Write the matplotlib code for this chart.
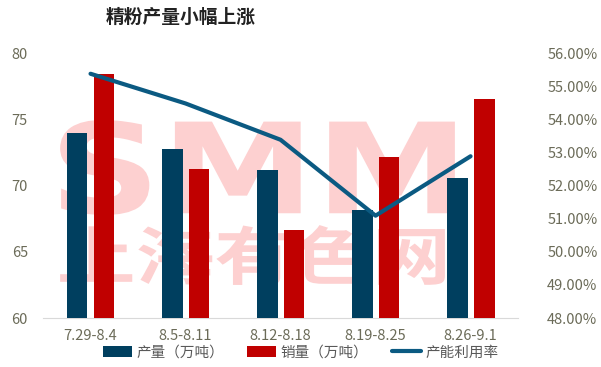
import numpy as np
import matplotlib.pyplot as plt
from matplotlib.ticker import FuncFormatter
from matplotlib.textpath import TextPath
from matplotlib.patches import PathPatch
from matplotlib.font_manager import FontProperties
from matplotlib.transforms import Affine2D

plt.rcParams['font.family'] = ['Noto Sans CJK SC', 'DejaVu Sans']

# 数据
weeks = ['7.29-8.4', '8.5-8.11', '8.12-8.18', '8.19-8.25', '8.26-9.1']
output = [74.0, 72.8, 71.2, 68.2, 70.6]       # 产量（万吨）
sales = [78.5, 71.3, 66.7, 72.2, 76.6]        # 销量（万吨）
util = [55.4, 54.5, 53.4, 51.1, 52.9]         # 产能利用率 (%)

c_blue = '#003f5f'
c_red = '#c00000'
c_line = '#0b5a82'
c_tick = '#6b6b58'


def watermark(ax, s, box, family, weight='bold'):
    """把文字拉伸填满 axes 坐标里的矩形 box=(x0, y0, x1, y1)。"""
    tp = TextPath((0, 0), s, size=10, prop=FontProperties(family=family, weight=weight))
    ext = tp.get_extents()
    x0, y0, x1, y1 = box
    tr = (Affine2D().translate(-ext.x0, -ext.y0)
          .scale((x1 - x0) / ext.width, (y1 - y0) / ext.height)
          .translate(x0, y0) + ax.transAxes)
    ax.add_patch(PathPatch(tp, transform=tr, color='#fdd0d0', lw=0, zorder=1))


fig = plt.figure(figsize=(6.01, 3.67), dpi=100)
ax = fig.add_axes([0.0716, 0.1335, 0.7904, 0.7195])
ax2 = ax.twinx()

x = np.arange(len(weeks))
w = 0.22
ax.bar(x - 0.142, output, width=w, color=c_blue, zorder=3, label='产量（万吨）')
ax.bar(x + 0.142, sales, width=w, color=c_red, zorder=3, label='销量（万吨）')
ax2.plot(x, util, color=c_line, lw=3, solid_capstyle='round', zorder=4, label='产能利用率')

ax.set_xlim(-0.5, len(weeks) - 0.5)
ax.set_ylim(60, 80)
ax.set_yticks(range(60, 81, 5))
ax2.set_ylim(48, 56)
ax2.set_yticks(range(48, 57))
ax2.yaxis.set_major_formatter(FuncFormatter(lambda v, p: f'{v:.2f}%'))

ax.set_xticks(x)
ax.set_xticklabels(weeks)

for a in (ax, ax2):
    for s in a.spines.values():
        s.set_visible(False)
    a.tick_params(length=0, labelsize=10.5, labelcolor=c_tick)
ax.spines['bottom'].set_visible(True)
ax.spines['bottom'].set_color('#d9d9d9')
ax.tick_params(axis='x', pad=8)
ax.tick_params(axis='y', pad=11)
ax2.tick_params(axis='y', pad=21)

# 水印
watermark(ax, 'SMM', (0.036, 0.39, 0.867, 0.75), 'DejaVu Sans')
watermark(ax, '上海有色网', (0.036, 0.125, 0.846, 0.352), 'Noto Sans CJK SC')

fig.text(0.30, 0.952, '精粉产量小幅上涨', fontsize=13.5, fontweight='bold',
         color='#222222', ha='center', va='center')

h1, l1 = ax.get_legend_handles_labels()
h2, l2 = ax2.get_legend_handles_labels()
fig.legend(h1 + h2, l1 + l2, loc='center', bbox_to_anchor=(0.5, 0.04), ncol=3,
           frameon=False, fontsize=10.5, labelcolor='#595959', handlelength=2.0,
           handleheight=0.8, columnspacing=1.6, handletextpad=0.3)

fig.savefig('out.png', dpi=100)
